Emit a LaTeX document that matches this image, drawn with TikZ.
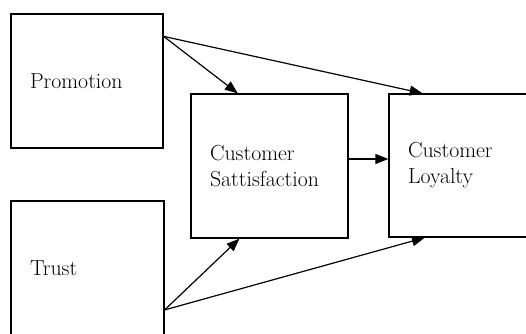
\documentclass[tikz,border=0pt]{standalone}
\usetikzlibrary{calc,arrows.meta}

\tikzset{
  block/.style={draw,line width=1.2pt,inner xsep=19pt,inner ysep=0pt,align=left,
    font=\fontsize{21.8}{26}\selectfont},
  link/.style={line width=1.2pt,-{Triangle[length=13pt,width=10pt]}}
}

\begin{document}
\begin{tikzpicture}[x=1pt,y=1pt]
                \useasboundingbox (0,0) rectangle (526,333);
                \node[block,text width=114pt,minimum height=134pt](promotion)at(87,252){Promotion};
                \node[block,text width=115pt,minimum height=134pt](trust)at(87.5,65){Trust};
                \node[block,text width=119pt,minimum height=144pt](satisfaction)at(269.5,167){Customer\\Sattisfaction};
                \node[block,text width=113pt,minimum height=143pt](loyalty)at(464.5,167.5){Customer\\Loyalty};
                \coordinate(P)at($(promotion.north east)!0.17!(promotion.south east)$);
                \coordinate(T)at($(trust.north east)!0.81!(trust.south east)$);
                \coordinate(S1)at($(satisfaction.north west)!0.3!(satisfaction.north east)$);
                \coordinate(S2)at($(satisfaction.south west)!0.31!(satisfaction.south east)$);
                \coordinate(L1)at($(loyalty.north west)!0.225!(loyalty.north east)$);
                \coordinate(L2)at($(loyalty.south west)!0.24!(loyalty.south east)$);
                \coordinate(S3)at([yshift=7pt]satisfaction.east);
                \draw[link](P)--(S1);
                \draw[link](P)--(L1);
                \draw[link](T)--(S2);
                \draw[link](T)--(L2);
                \draw[link](S3)--(S3-|loyalty.west);
            \end{tikzpicture}
\end{document}
